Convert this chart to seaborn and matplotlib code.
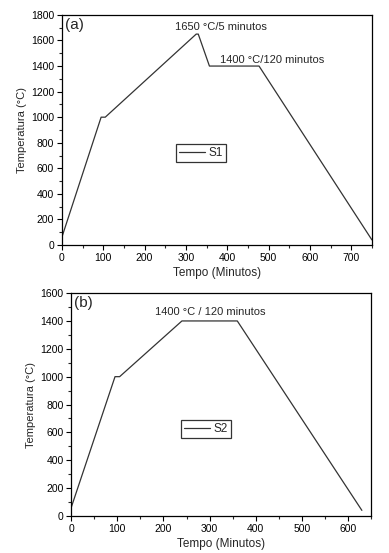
import pandas as pd
import matplotlib.pyplot as plt
import seaborn as sns
from matplotlib.ticker import MultipleLocator

# Daten: Temperaturprofile
tempo_s1 = [0, 95, 105, 325, 330, 357, 477, 750]
temp_s1 = [60, 1000, 1000, 1650, 1650, 1400, 1400, 40]
tempo_s2 = [0, 95, 105, 240, 360, 630]
temp_s2 = [60, 1000, 1000, 1400, 1400, 40]

sns.set_theme(style="ticks")
plt.rcParams['font.family'] = ['Liberation Sans', 'DejaVu Sans']
plt.rcParams['xtick.direction'] = 'out'
plt.rcParams['ytick.direction'] = 'out'

fig = plt.figure(figsize=(3.89, 5.53), dpi=100)
ax1 = fig.add_axes([0.159, 0.557, 0.797, 0.416])
ax2 = fig.add_axes([0.183, 0.067, 0.771, 0.403])

df1 = pd.DataFrame({"Tempo": tempo_s1, "Temp": temp_s1})
df2 = pd.DataFrame({"Tempo": tempo_s2, "Temp": temp_s2})

sns.lineplot(data=df1, x="Tempo", y="Temp", ax=ax1, color="#333333", lw=0.9, label="S1", sort=False)
sns.lineplot(data=df2, x="Tempo", y="Temp", ax=ax2, color="#333333", lw=0.9, label="S2", sort=False)

def style(ax, xmax, ymax, tag, leg_pos):
    ax.set_xlim(0, xmax)
    ax.set_ylim(0, ymax)
    ax.xaxis.set_major_locator(MultipleLocator(100))
    ax.xaxis.set_minor_locator(MultipleLocator(50))
    ax.yaxis.set_major_locator(MultipleLocator(200))
    ax.yaxis.set_minor_locator(MultipleLocator(100))
    ax.tick_params(which='major', length=3.5, width=0.8, labelsize=7.5, pad=2, colors='black')
    ax.tick_params(which='minor', length=2, width=0.8)
    for s in ax.spines.values():
        s.set_visible(True)
        s.set_color('black')
        s.set_linewidth(0.9)
    ax.set_xlabel("Tempo (Minutos)", fontsize=8.5, labelpad=3)
    ax.set_ylabel("Temperatura (°C)", fontsize=8, labelpad=3)
    ax.text(0.01, 0.985, tag, transform=ax.transAxes, fontsize=11, va='top', ha='left')
    leg = ax.legend(loc='center', bbox_to_anchor=leg_pos, fontsize=8.5, frameon=True, fancybox=False,
                    edgecolor='black', handlelength=2.2, borderpad=0.25, handletextpad=0.3)
    leg.get_frame().set_linewidth(0.9)

style(ax1, 750, 1800, "(a)", (0.45, 0.40))
style(ax2, 650, 1600, "(b)", (0.45, 0.39))

ax1.text(386, 1706, "1650 °C/5 minutos", fontsize=8, ha='center', va='center')
ax1.text(509, 1448, "1400 °C/120 minutos", fontsize=8, ha='center', va='center')
ax2.text(301, 1464, "1400 °C / 120 minutos", fontsize=8, ha='center', va='center')

fig.savefig("out.png", dpi=100)
